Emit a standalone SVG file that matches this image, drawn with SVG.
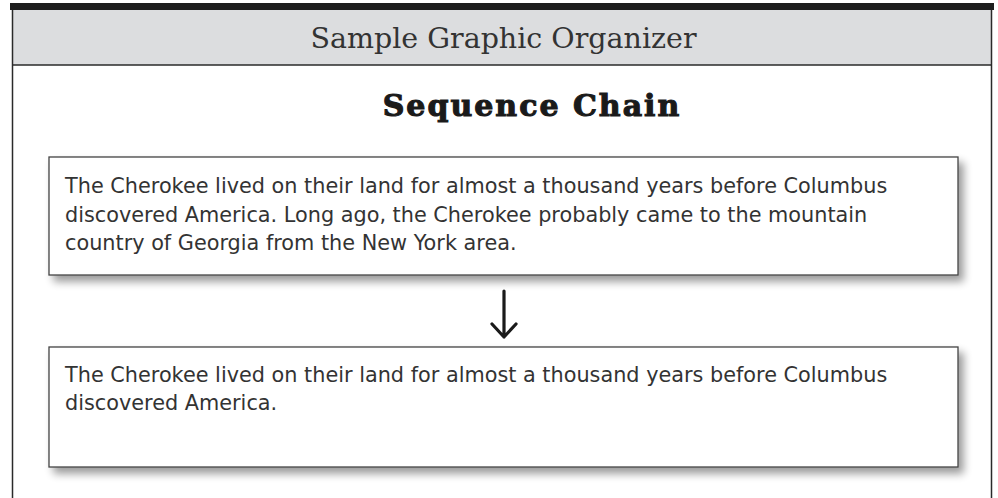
<svg xmlns="http://www.w3.org/2000/svg" width="998" height="498" viewBox="0 0 998 498">
<defs>
<filter id="sh" x="-5%" y="-20%" width="115%" height="150%">
<feGaussianBlur in="SourceAlpha" stdDeviation="4"/>
<feOffset dx="5" dy="6" result="b"/>
<feComponentTransfer><feFuncA type="linear" slope="0.4"/></feComponentTransfer>
<feMerge><feMergeNode/><feMergeNode in="SourceGraphic"/></feMerge>
</filter>
</defs>
<style>
.frame{fill:none;stroke:#2a2a2a;stroke-width:1.5}
.box{fill:#fff;stroke:#444;stroke-width:1.3}
.body{font-family:"DejaVu Sans","Liberation Sans",sans-serif;font-size:20.8px;fill:#333}
.hdr{font-family:"DejaVu Serif","Liberation Serif",serif;font-size:28.5px;fill:#333}
.ttl{font-family:"DejaVu Serif",serif;font-weight:bold;font-size:30px;fill:#1a1a1a;stroke:#1a1a1a;stroke-width:1.1;letter-spacing:2px}
.arr{fill:none;stroke:#1a1a1a;stroke-width:3.2;stroke-linecap:round;stroke-linejoin:round}
</style>
<rect width="998" height="498" fill="#fff"/>
<g id="frame">
<rect x="12.5" y="10" width="979.5" height="55" fill="#dcdddf"/>
<rect x="10" y="3" width="984" height="7" fill="#1e1e1e"/>
<line class="frame" x1="12.5" y1="10" x2="12.5" y2="498"/>
<line class="frame" x1="991.5" y1="10" x2="991.5" y2="498"/>
<line class="frame" x1="12.5" y1="65" x2="991.5" y2="65"/>
<text class="hdr" x="503.5" y="48" text-anchor="middle">Sample Graphic Organizer</text>
<text class="ttl" x="532" y="116" text-anchor="middle">Sequence Chain</text>
</g>
<g id="node1">
<rect class="box" x="49" y="157" width="909" height="118" filter="url(#sh)"/>
<text class="body" x="65" y="193">The Cherokee lived on their land for almost a thousand years before Columbus</text>
<text class="body" x="65" y="222">discovered America. Long ago, the Cherokee probably came to the mountain</text>
<text class="body" x="65" y="250">country of Georgia from the New York area.</text>
</g>
<g id="node2">
<rect class="box" x="49" y="347" width="909" height="120" filter="url(#sh)"/>
<text class="body" x="65" y="382">The Cherokee lived on their land for almost a thousand years before Columbus</text>
<text class="body" x="65" y="410">discovered America.</text>
</g>
<g id="connectors">
<path class="arr" d="M504 291 V337 M492 324 L504 337 L516 324"/>
</g>
</svg>
